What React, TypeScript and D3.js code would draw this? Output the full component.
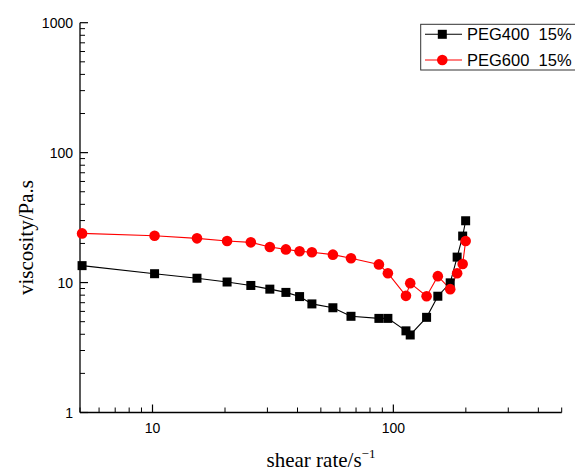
import React from "react";
import * as d3 from "d3";

const shearRate = [5.1, 10.2, 15.3, 20.4, 25.6, 30.7, 35.8, 40.8, 45.9, 56.1, 66.7, 87.1, 94.9, 112.8, 117.5, 137.4, 153, 172.2, 184, 194, 199.6];
const peg400 = [13.5, 11.7, 10.8, 10.1, 9.5, 8.9, 8.4, 7.8, 6.85, 6.4, 5.5, 5.3, 5.3, 4.25, 3.95, 5.4, 7.85, 9.95, 15.7, 22.8, 29.9];
const peg600 = [23.9, 22.9, 21.9, 20.9, 20.4, 18.8, 18.0, 17.4, 17.1, 16.4, 15.4, 13.8, 11.8, 7.9, 9.9, 7.85, 11.2, 8.9, 11.8, 13.9, 20.9];
const xTicks = [10, 100];
const yTicks = [1, 10, 100, 1000];
const seriesNames = ["PEG400  15%", "PEG600  15%"];

const W = 575, H = 472;
const sans = "'Liberation Sans', Arial, sans-serif";
const serif = "'Liberation Serif', 'Times New Roman', serif";

export default function App() {
  const x = d3.scaleLog().domain([5, 500]).range([80, 561.7]);
  const y = d3.scaleLog().domain([1, 1000]).range([412.5, 22.7]);
  const line = d3.line<[number, number]>().x(d => x(d[0])).y(d => y(d[1]));
  const d400 = shearRate.map((v, i) => [v, peg400[i]] as [number, number]);
  const d600 = shearRate.map((v, i) => [v, peg600[i]] as [number, number]);

  const xMinor: number[] = [];
  [1, 10, 100].forEach(dec => { for (let k = 1; k <= 9; k++) { const v = dec * k; if (v >= 5 && v <= 500 && !xTicks.includes(v)) xMinor.push(v); } });
  const yMinor: number[] = [];
  [1, 10, 100].forEach(dec => { for (let k = 2; k <= 9; k++) yMinor.push(dec * k); });

  const x0 = 80, yb = 412.5;
  return (
    <svg width={W} height={H} style={{ position: "absolute", left: 0, top: 0, background: "#fff" }}>
      {/* axes */}
      <line x1={x0} x2={x0} y1={22.7} y2={yb} stroke="#000" strokeWidth={1.3} />
      <line x1={x0} x2={561.7} y1={yb} y2={yb} stroke="#000" strokeWidth={1.3} />
      {yTicks.map(t => (
        <g key={"yt" + t}>
          <line x1={x0} x2={x0 + 8} y1={y(t)} y2={y(t)} stroke="#000" strokeWidth={1.2} />
          <text x={73} y={y(t) + 5} textAnchor="end" fontFamily={sans} fontSize={14}>{t}</text>
        </g>
      ))}
      {yMinor.map(t => (
        <line key={"ym" + t} x1={x0} x2={x0 + 5} y1={y(t)} y2={y(t)} stroke="#000" strokeWidth={1} />
      ))}
      {xTicks.map(t => (
        <g key={"xt" + t}>
          <line x1={x(t)} x2={x(t)} y1={yb} y2={yb - 8} stroke="#000" strokeWidth={1.2} />
          <text x={x(t)} y={433} textAnchor="middle" fontFamily={sans} fontSize={14}>{t}</text>
        </g>
      ))}
      {xMinor.map(t => (
        <line key={"xm" + t} x1={x(t)} x2={x(t)} y1={yb} y2={yb - 5} stroke="#000" strokeWidth={1} />
      ))}
      {/* axis titles */}
      <text transform="translate(33,237.5) rotate(-90)" textAnchor="middle" fontFamily={serif} fontSize={21}>viscosity/Pa.s</text>
      <text x={321} y={467} textAnchor="middle" fontFamily={serif} fontSize={21}>
        shear rate/s<tspan dy={-9} fontSize={13}>−1</tspan>
      </text>
      {/* series */}
      <path d={line(d400) || ""} fill="none" stroke="#000" strokeWidth={1.1} />
      <path d={line(d600) || ""} fill="none" stroke="#ff0000" strokeWidth={1.1} />
      {d400.map((p, i) => (
        <rect key={"s" + i} x={x(p[0]) - 4.5} y={y(p[1]) - 4.5} width={9} height={9} fill="#000" />
      ))}
      {d600.map((p, i) => (
        <circle key={"c" + i} cx={x(p[0])} cy={y(p[1])} r={5.3} fill="#ff0000" />
      ))}
      {/* legend */}
      <rect x={420.7} y={24.3} width={170} height={45.7} fill="#fff" stroke="#333" strokeWidth={1} />
      <line x1={425} x2={462} y1={34.3} y2={34.3} stroke="#000" strokeWidth={1.1} />
      <rect x={442.3 - 4.5} y={34.3 - 4.5} width={9} height={9} fill="#000" />
      <text x={467} y={40.3} fontFamily={sans} fontSize={16.5} style={{ whiteSpace: "pre" }}>{seriesNames[0]}</text>
      <line x1={425} x2={462} y1={60} y2={60} stroke="#ff0000" strokeWidth={1.1} />
      <circle cx={442.3} cy={60} r={5.3} fill="#ff0000" />
      <text x={467} y={66} fontFamily={sans} fontSize={16.5} style={{ whiteSpace: "pre" }}>{seriesNames[1]}</text>
    </svg>
  );
}
